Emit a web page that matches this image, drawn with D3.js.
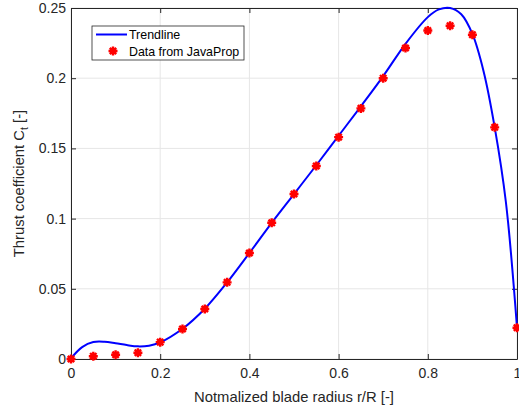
<!DOCTYPE html>
<html>
<head>
<meta charset="utf-8">
<script src="https://cdn.jsdelivr.net/npm/d3@7"></script>
<style>
  body { margin: 0; background: #fff; }
  text { font-family: "Liberation Sans", Arial, sans-serif; }
</style>
</head>
<body>
<svg width="519" height="410"></svg>
<script>
// data
const radius = [0, 0.05, 0.1, 0.15, 0.2, 0.25, 0.3, 0.35, 0.4, 0.45, 0.5,
                0.55, 0.6, 0.65, 0.7, 0.75, 0.8, 0.85, 0.9, 0.95, 1.0];
const ctData = [0, 0.002, 0.003, 0.0045, 0.012, 0.0214, 0.0356, 0.0546, 0.0755, 0.097, 0.1175,
                0.1375, 0.158, 0.1785, 0.2, 0.2215, 0.234, 0.2374, 0.231, 0.165, 0.0223];

// trendline samples
const trendX = [0, 0.025, 0.05, 0.075, 0.1, 0.125, 0.15, 0.175, 0.2, 0.25, 0.3, 0.35, 0.4, 0.45,
                0.5, 0.55, 0.6, 0.65, 0.7, 0.75, 0.8, 0.825, 0.85, 0.875, 0.9, 0.925, 0.95, 0.975, 1.0];
const trendY = [0.0005, 0.0085, 0.0121, 0.0123, 0.0112, 0.0099, 0.009, 0.0095, 0.0118, 0.0215, 0.0358, 0.0545, 0.0755, 0.097,
                0.1175, 0.138, 0.159, 0.18, 0.2015, 0.2245, 0.2435, 0.249, 0.25, 0.2455, 0.2315, 0.205, 0.165, 0.112, 0.0225];

const xTicks = [0, 0.2, 0.4, 0.6, 0.8, 1];
const yTicks = [0, 0.05, 0.1, 0.15, 0.2, 0.25];

const svg = d3.select("svg");
const padL = 71, padR = 517, padT = 8, padB = 359;

const x = d3.scaleLinear().domain([0, 1]).range([padL, padR]);
const y = d3.scaleLinear().domain([0, 0.25]).range([padB, padT]);

// grid
svg.append("g").selectAll("line").data(xTicks).join("line")
  .attr("x1", d => x(d)).attr("x2", d => x(d))
  .attr("y1", padT).attr("y2", padB)
  .attr("stroke", "#e6e6e6").attr("stroke-width", 1);
svg.append("g").selectAll("line").data(yTicks).join("line")
  .attr("x1", padL).attr("x2", padR)
  .attr("y1", d => y(d)).attr("y2", d => y(d))
  .attr("stroke", "#e6e6e6").attr("stroke-width", 1);

// axes
const xAxis = svg.append("g").attr("transform", `translate(0,${padB})`)
  .call(d3.axisBottom(x).tickValues(xTicks).tickSizeInner(-5).tickSizeOuter(0).tickPadding(9)
    .tickFormat(d3.format("")));
const yAxis = svg.append("g").attr("transform", `translate(${padL},0)`)
  .call(d3.axisLeft(y).tickValues(yTicks).tickSizeInner(-5).tickSizeOuter(0).tickPadding(5)
    .tickFormat(d3.format("")));
const xTop = svg.append("g").attr("transform", `translate(0,${padT})`)
  .call(d3.axisTop(x).tickValues(xTicks).tickSizeInner(-5).tickSizeOuter(0).tickFormat(""));
const yRight = svg.append("g").attr("transform", `translate(${padR},0)`)
  .call(d3.axisRight(y).tickValues(yTicks).tickSizeInner(-5).tickSizeOuter(0).tickFormat(""));

[xAxis, yAxis, xTop, yRight].forEach(g => {
  g.select(".domain").attr("stroke", "#262626");
  g.selectAll(".tick line").attr("stroke", "#262626");
  g.selectAll(".tick text").attr("fill", "#262626").style("font-size", "14px")
    .style("font-family", "Liberation Sans, Arial, sans-serif");
});

// trendline
const pts = trendX.map((d, i) => [d, trendY[i]]);
svg.append("path")
  .datum(pts)
  .attr("fill", "none")
  .attr("stroke", "#0000ff")
  .attr("stroke-width", 2)
  .attr("d", d3.line().x(d => x(d[0])).y(d => y(d[1])).curve(d3.curveCatmullRom));

// asterisk markers
function asterisk(r) {
  let p = "";
  for (let k = 0; k < 4; k++) {
    const a = k * Math.PI / 4;
    const dx = r * Math.cos(a), dy = r * Math.sin(a);
    p += `M${-dx},${-dy}L${dx},${dy}`;
  }
  return p;
}
svg.append("g").selectAll("path").data(radius).join("path")
  .attr("transform", (d, i) => `translate(${x(d)},${y(ctData[i])})`)
  .attr("d", asterisk(4.5))
  .attr("stroke", "#ff0000")
  .attr("stroke-width", 2.4)
  .attr("fill", "none");

// legend
const lg = svg.append("g");
lg.append("rect").attr("x", 92).attr("y", 26).attr("width", 152).attr("height", 34)
  .attr("fill", "#fff").attr("stroke", "#262626").attr("stroke-width", 0.8);
lg.append("line").attr("x1", 96).attr("x2", 127).attr("y1", 34.5).attr("y2", 34.5)
  .attr("stroke", "#0000ff").attr("stroke-width", 2);
lg.append("text").attr("x", 129).attr("y", 39).text("Trendline")
  .style("font-size", "12.4px").attr("fill", "#000");
lg.append("path").attr("transform", "translate(113,51)").attr("d", asterisk(4.5))
  .attr("stroke", "#ff0000").attr("stroke-width", 2.4);
lg.append("text").attr("x", 129).attr("y", 55.5).text("Data from JavaProp")
  .style("font-size", "12.4px").attr("fill", "#000");

// axis labels
svg.append("text")
  .attr("x", (padL + padR) / 2).attr("y", 402)
  .attr("text-anchor", "middle")
  .style("font-size", "14.8px").attr("fill", "#262626")
  .text("Notmalized blade radius r/R [-]");

const yl = svg.append("text")
  .attr("transform", `translate(24,${(padT + padB) / 2}) rotate(-90)`)
  .attr("text-anchor", "middle")
  .style("font-size", "14.8px").attr("fill", "#262626");
yl.append("tspan").text("Thrust coefficient C");
yl.append("tspan").attr("dy", 4).style("font-size", "10.5px").text("t");
yl.append("tspan").attr("dy", -4).text(" [-]");
</script>
</body>
</html>
